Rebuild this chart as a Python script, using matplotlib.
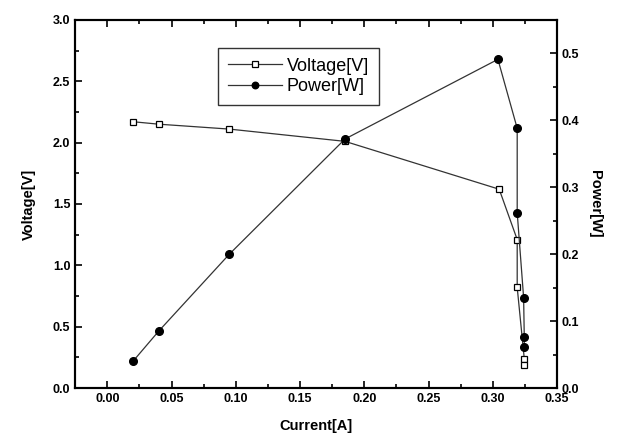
import numpy as np
import matplotlib.pyplot as plt
from matplotlib.ticker import MultipleLocator

# 读图得到的数据
current_v = [0.02, 0.04, 0.095, 0.185, 0.305, 0.319, 0.319, 0.3245, 0.3245]
voltage = [2.17, 2.15, 2.11, 2.01, 1.62, 1.21, 0.82, 0.24, 0.19]
current_p = [0.02, 0.04, 0.095, 0.185, 0.304, 0.319, 0.319, 0.324, 0.3245, 0.3245]
power = [0.04, 0.085, 0.20, 0.372, 0.491, 0.388, 0.262, 0.135, 0.076, 0.061]

plt.rcParams['font.family'] = ['Liberation Sans', 'DejaVu Sans']

fig = plt.figure(figsize=(6.21, 4.41), dpi=100)
ax = fig.add_axes([0.121, 0.120, 0.776, 0.835])
ax2 = ax.twinx()

l1, = ax.plot(current_v, voltage, color="#333333", lw=0.9, marker="s", ms=5,
              mfc="white", mec="black", mew=0.9, label="Voltage[V]", zorder=3)
l2, = ax2.plot(current_p, power, color="#333333", lw=0.9, marker="o", ms=5.5,
               mfc="black", mec="black", label="Power[W]", zorder=3)

ax.set_xlim(-0.025, 0.35)
ax.set_ylim(0, 3.0)
ax2.set_ylim(0, 0.55)

ax.xaxis.set_major_locator(MultipleLocator(0.05))
ax.xaxis.set_minor_locator(MultipleLocator(0.025))
ax.yaxis.set_major_locator(MultipleLocator(0.5))
ax.yaxis.set_minor_locator(MultipleLocator(0.25))
ax2.yaxis.set_major_locator(MultipleLocator(0.1))
ax2.yaxis.set_minor_locator(MultipleLocator(0.05))

ax.xaxis.set_major_formatter(plt.FuncFormatter(lambda v, p: "{:.2f}".format(v)))
ax.yaxis.set_major_formatter(plt.FuncFormatter(lambda v, p: "{:.1f}".format(v)))
ax2.yaxis.set_major_formatter(plt.FuncFormatter(lambda v, p: "{:.1f}".format(v)))

ax.tick_params(which="both", direction="in", top=True, labelsize=9, width=1.2)
ax.tick_params(which="major", length=5)
ax.tick_params(which="minor", length=3)
ax2.tick_params(which="both", direction="in", labelsize=9, width=1.2)
ax2.tick_params(which="major", length=5)
ax2.tick_params(which="minor", length=3)
for lab in ax.get_xticklabels() + ax.get_yticklabels() + ax2.get_yticklabels():
    lab.set_fontweight("bold")

for a in (ax, ax2):
    for s in a.spines.values():
        s.set_linewidth(1.5)

ax.set_xlabel("Current[A]", fontsize=10.5, fontweight="bold", labelpad=10)
ax.set_ylabel("Voltage[V]", fontsize=10.5, fontweight="bold", labelpad=12)
ax2.set_ylabel("Power[W]", fontsize=10.5, fontweight="bold", rotation=270, labelpad=16)

leg = ax.legend(handles=[l1, l2], loc="upper left", bbox_to_anchor=(0.297, 0.924),
                borderaxespad=0, fontsize=13, frameon=True, fancybox=False,
                edgecolor="black", handlelength=3.0, handletextpad=0.25,
                borderpad=0.55, labelspacing=0.2, markerscale=0.85)
leg.get_frame().set_linewidth(1.0)

plt.savefig("out.png", dpi=100)
